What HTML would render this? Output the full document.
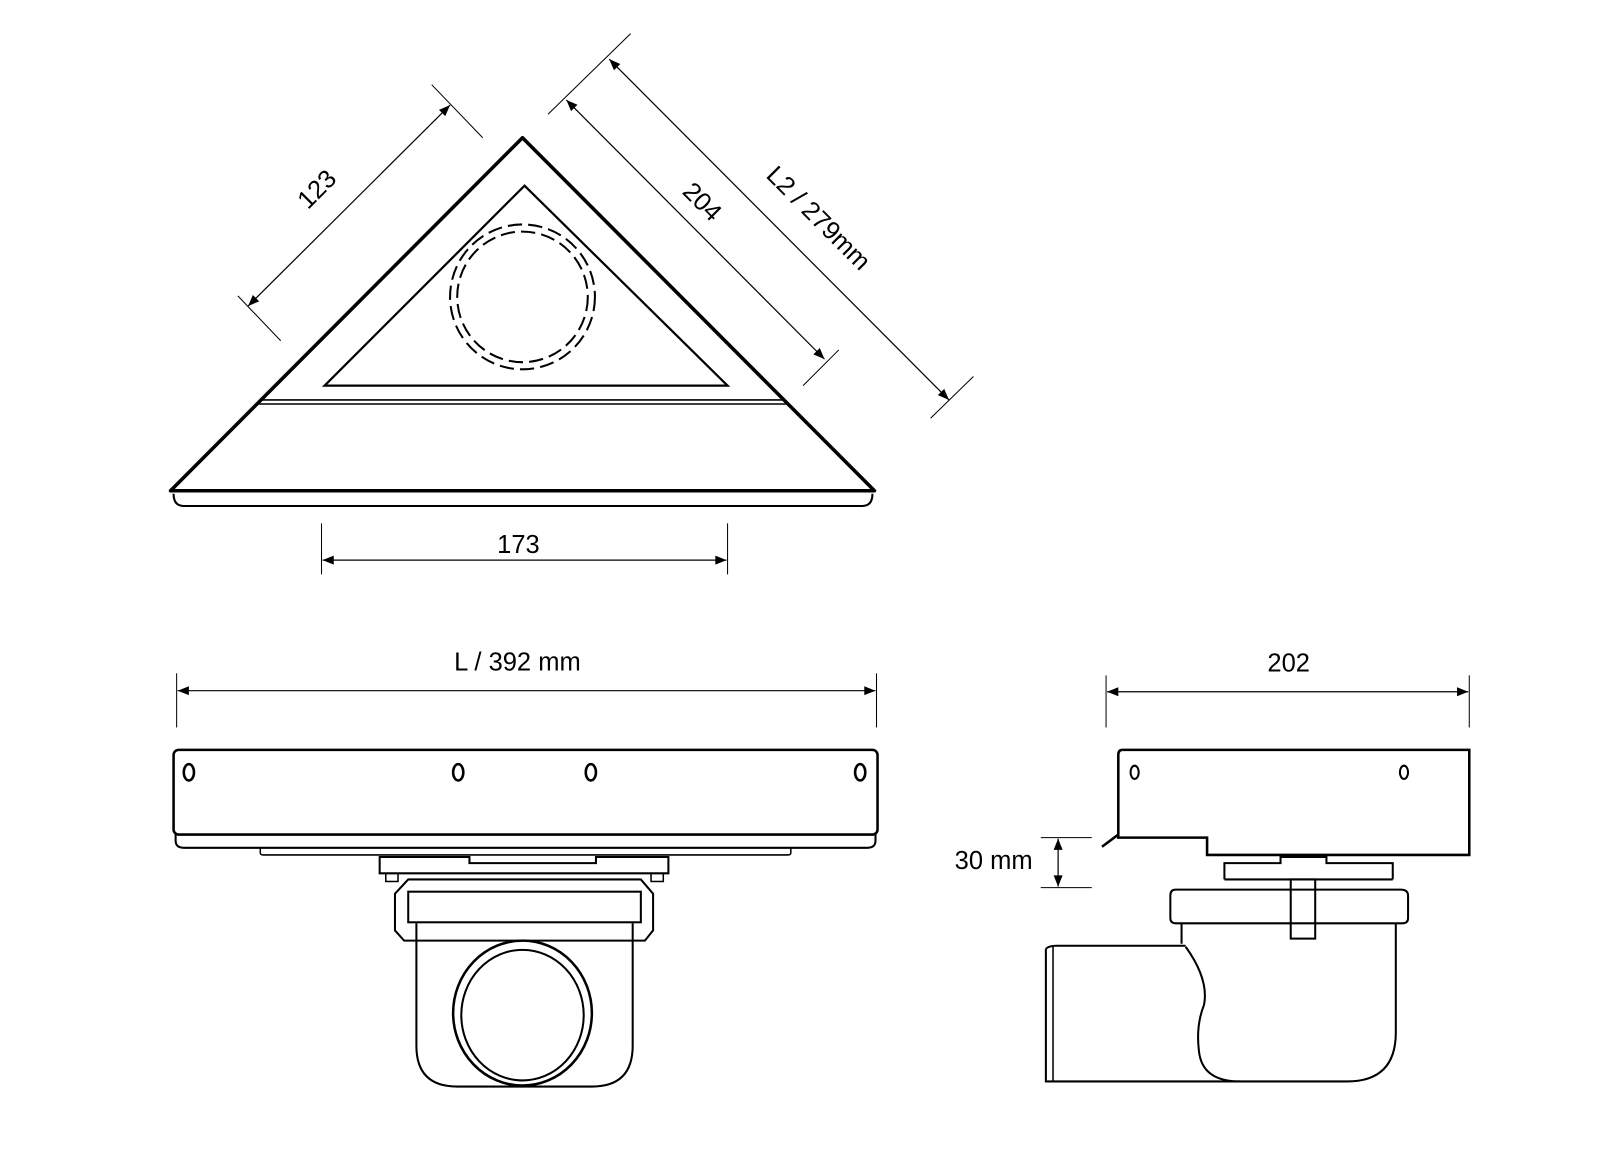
<!DOCTYPE html>
<html><head><style>html,body{margin:0;padding:0;background:#fff}svg{display:block}</style></head>
<body>
<svg width="1600" height="1160" viewBox="0 0 1568 1137" xmlns="http://www.w3.org/2000/svg" font-family="Liberation Sans, sans-serif">
<defs>
<marker id="a" viewBox="0 0 10 10" refX="10" refY="5" markerWidth="15" markerHeight="11" markerUnits="userSpaceOnUse" orient="auto-start-reverse"><path d="M0,1 L10,5 L0,9 Z" fill="#000"/></marker>
</defs>
<g fill="none" stroke="#000">
<path d="M512,135 L857,481 L167,481 Z" stroke-width="3.5" stroke-linejoin="round"/>
<path d="M170,484 Q170,496 180,496 H845 Q855,496 855,484" stroke-width="2"/>
<line x1="256" y1="392" x2="770" y2="392" stroke-width="1.5"/>
<line x1="253" y1="396" x2="773" y2="396" stroke-width="1.5"/>
<path d="M514,182 L713,378 L318,378 Z" stroke-width="2.2"/>
<ellipse cx="512" cy="291" rx="71" ry="71" stroke-width="2" stroke-dasharray="14 6"/>
<ellipse cx="512" cy="291" rx="64" ry="64" stroke-width="2" stroke-dasharray="14 6"/>
<line x1="243" y1="300" x2="441" y2="103" stroke-width="1.2" marker-start="url(#a)" marker-end="url(#a)"/>
<line x1="423" y1="83" x2="473" y2="135" stroke-width="1"/>
<line x1="233" y1="290" x2="275" y2="334" stroke-width="1"/>
<line x1="555" y1="98" x2="808" y2="352" stroke-width="1.2" marker-start="url(#a)" marker-end="url(#a)"/>
<line x1="537" y1="112" x2="618" y2="33" stroke-width="1"/>
<line x1="787" y1="378" x2="822" y2="343" stroke-width="1"/>
<line x1="597" y1="58" x2="930" y2="392" stroke-width="1.2" marker-start="url(#a)" marker-end="url(#a)"/>
<line x1="912" y1="410" x2="954" y2="369" stroke-width="1"/>
<line x1="315" y1="513" x2="315" y2="563" stroke-width="1"/>
<line x1="713" y1="513" x2="713" y2="563" stroke-width="1"/>
<line x1="316" y1="549" x2="712" y2="549" stroke-width="1.2" marker-start="url(#a)" marker-end="url(#a)"/>
<line x1="173" y1="660" x2="173" y2="713" stroke-width="1"/>
<line x1="859" y1="660" x2="859" y2="713" stroke-width="1"/>
<line x1="174" y1="677" x2="858" y2="677" stroke-width="1.2" marker-start="url(#a)" marker-end="url(#a)"/>
<rect x="170" y="735" width="690" height="83" rx="5" stroke-width="2.5"/>
<path d="M172,818 V824 Q172,831 180,831 H850 Q858,831 858,824 V818" stroke-width="2"/>
<path d="M255,831 V836 Q255,838 258,838 H772 Q775,838 775,836 V831" stroke-width="1.5"/>
<ellipse cx="185" cy="757" rx="5" ry="8" stroke-width="2.5"/>
<ellipse cx="449" cy="757" rx="5" ry="8" stroke-width="2.5"/>
<ellipse cx="579" cy="757" rx="5" ry="8" stroke-width="2.5"/>
<ellipse cx="843" cy="757" rx="5" ry="8" stroke-width="2.5"/>
<path d="M372,840 H460 V846 H584 V840 H655 V856 H372 Z" stroke-width="2"/>
<rect x="378" y="856" width="12" height="8" stroke-width="1.5"/>
<rect x="638" y="856" width="12" height="8" stroke-width="1.5"/>
<path d="M400,862 H628 L640,876 V912 L632,922 H396 L387,912 V876 Z" stroke-width="2"/>
<rect x="400" y="874" width="228" height="30" stroke-width="2"/>
<path d="M408,905 V1025 Q408,1065 448,1065 H580 Q620,1065 620,1025 V905" stroke-width="2"/>
<ellipse cx="512" cy="993" rx="68" ry="71" stroke-width="2.5"/>
<ellipse cx="512" cy="995" rx="60" ry="64" stroke-width="2"/>
<line x1="1084" y1="662" x2="1084" y2="713" stroke-width="1"/>
<line x1="1440" y1="662" x2="1440" y2="713" stroke-width="1"/>
<line x1="1085" y1="678" x2="1439" y2="678" stroke-width="1.2" marker-start="url(#a)" marker-end="url(#a)"/>
<line x1="1020" y1="821" x2="1070" y2="821" stroke-width="1"/>
<line x1="1020" y1="870" x2="1070" y2="870" stroke-width="1"/>
<line x1="1037" y1="822" x2="1037" y2="869" stroke-width="1.2" marker-start="url(#a)" marker-end="url(#a)"/>
<path d="M1100,735 H1440 V838 H1183 V821 H1096 V740 Q1096,735 1100,735 Z" stroke-width="2.5"/>
<line x1="1080" y1="830" x2="1096" y2="818" stroke-width="2.5"/>
<ellipse cx="1112" cy="757" rx="4" ry="6.5" stroke-width="2"/>
<ellipse cx="1376" cy="757" rx="4" ry="6.5" stroke-width="2"/>
<path d="M1200,862 V846 H1255 V840 H1300 V846 H1365 V862" stroke-width="2"/>
<line x1="1200" y1="862" x2="1365" y2="862" stroke-width="2"/>
<path d="M1152,872 H1373 Q1380,872 1380,878 V900 Q1380,905 1374,905 H1153 Q1147,905 1147,900 V878 Q1147,872 1152,872 Z" stroke-width="2"/>
<rect x="1265" y="862" width="24" height="58" stroke-width="2"/>
<path d="M1158,905 V925 M1368,905 V1012 Q1368,1060 1320,1060 H1215 Q1178,1060 1175,1030 Q1172,1005 1180,985 Q1185,960 1162,928" stroke-width="2"/>
<path d="M1025,930 Q1028,927 1035,927 H1162 M1025,930 V1060 H1215" stroke-width="2"/>
<line x1="1032" y1="928" x2="1032" y2="1060" stroke-width="1.5"/>
</g>
<g fill="#000" font-size="25">
<text x="310" y="194" transform="rotate(-45 310 185)" text-anchor="middle">123</text>
<text x="688" y="206" transform="rotate(45 688 198)" text-anchor="middle">204</text>
<text x="802" y="222" transform="rotate(45 802 214)" text-anchor="middle">L2 / 279mm</text>
<text x="508" y="542" text-anchor="middle">173</text>
<text x="507" y="657" text-anchor="middle">L / 392 mm</text>
<text x="1263" y="658" text-anchor="middle">202</text>
<text x="1012" y="852" text-anchor="end">30 mm</text>
</g>
</svg>
</body></html>
